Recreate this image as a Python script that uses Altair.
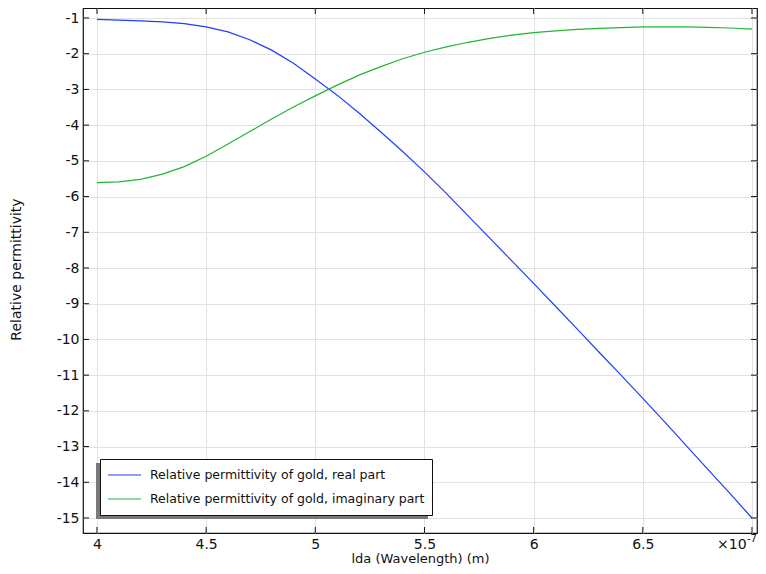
import altair as alt
import pandas as pd

# ---- data ----
wavelength = [4.0, 4.1, 4.2, 4.3, 4.4, 4.5, 4.6, 4.7, 4.8, 4.9,
              5.0, 5.1, 5.2, 5.3, 5.4, 5.5, 5.6, 5.7, 5.8, 5.9,
              6.0, 6.1, 6.2, 6.3, 6.4, 6.5, 6.6, 6.7, 6.8, 6.9, 7.0]
real_part = [-1.04, -1.06, -1.08, -1.11, -1.16, -1.25, -1.39, -1.61, -1.90, -2.27,
             -2.71, -3.16, -3.66, -4.19, -4.74, -5.31, -5.91, -6.54, -7.17, -7.80,
             -8.43, -9.07, -9.71, -10.36, -11.00, -11.65, -12.31, -12.98, -13.65, -14.32, -15.00]
imag_part = [-5.61, -5.59, -5.52, -5.37, -5.16, -4.87, -4.53, -4.18, -3.83, -3.49,
             -3.18, -2.88, -2.60, -2.36, -2.14, -1.96, -1.81, -1.68, -1.57, -1.48,
             -1.41, -1.36, -1.32, -1.29, -1.27, -1.25, -1.25, -1.25, -1.26, -1.28, -1.31]
series_names = ["Relative permittivity of gold, real part",
                "Relative permittivity of gold, imaginary part"]
series_colors = ["#1f3dff", "#22b533"]
x_ticks = [4.0, 4.5, 5.0, 5.5, 6.0, 6.5, 7.0]
y_ticks = [-1, -2, -3, -4, -5, -6, -7, -8, -9, -10, -11, -12, -13, -14, -15]
x_title = "lda (Wavelength) (m)"
y_title = "Relative permittivity"
exp_base = ["×10"]
exp_power = ["-7"]

W, H = 674, 525
FONT = "DejaVu Sans"

df = pd.DataFrame({
    "x": wavelength * 2,
    "y": real_part + imag_part,
    "s": [series_names[0]] * len(wavelength) + [series_names[1]] * len(wavelength),
})
xt = pd.DataFrame({"x": x_ticks})
yt = pd.DataFrame({"y": y_ticks})

xscale = alt.Scale(domain=[3.936, 7.023], nice=False, zero=False)
yscale = alt.Scale(domain=[-15.42, -0.72], nice=False, zero=False)

xaxis = alt.Axis(values=x_ticks, title=x_title,
                 labelExpr="datum.value == 7 ? '' : '' + datum.value",
                 titleY=25, titleBaseline="middle", titleFontSize=13, labelPadding=4)
yaxis = alt.Axis(values=y_ticks, title=y_title,
                 labelExpr="'' + datum.value",
                 titleX=-67, titleY=261, titleBaseline="middle",
                 labelPadding=4)

lines = alt.Chart(df).mark_line(strokeWidth=1.2).encode(
    x=alt.X("x:Q", scale=xscale, axis=xaxis),
    y=alt.Y("y:Q", scale=yscale, axis=yaxis),
    color=alt.Color("s:N", scale=alt.Scale(domain=series_names, range=series_colors),
                    legend=alt.Legend(title=None, orient="none", legendX=17, legendY=451,
                                      strokeColor="#111", fillColor="white", padding=7,
                                      symbolType="stroke", symbolSize=1089, clipHeight=18,
                                      symbolStrokeWidth=1.2, rowPadding=6, labelOffset=8,
                                      labelFontSize=12.5, labelFont=FONT, labelLimit=400,
                                      labelColor="#111")),
)

shadow = alt.Chart(xt.head(1)).mark_rect(color="#7a7a7a").encode(
    x=alt.value(13), x2=alt.value(345), y=alt.value(455), y2=alt.value(511))

tick_style = dict(color="#111", strokeWidth=1)
bottom_ticks = alt.Chart(xt).mark_rule(**tick_style).encode(
    x=alt.X("x:Q", scale=xscale, axis=xaxis), y=alt.value(H), y2=alt.value(H - 6))
top_ticks = alt.Chart(xt).mark_rule(**tick_style).encode(
    x=alt.X("x:Q", scale=xscale, axis=xaxis), y=alt.value(0), y2=alt.value(6))
left_ticks = alt.Chart(yt).mark_rule(**tick_style).encode(
    y=alt.Y("y:Q", scale=yscale, axis=yaxis), x=alt.value(0), x2=alt.value(6))
right_ticks = alt.Chart(yt).mark_rule(**tick_style).encode(
    y=alt.Y("y:Q", scale=yscale, axis=yaxis), x=alt.value(W), x2=alt.value(W - 6))

exp1 = alt.Chart(pd.DataFrame({"t": exp_base})).mark_text(
    align="left", baseline="middle", fontSize=14, font=FONT, color="#111").encode(
    text="t:N", x=alt.value(634), y=alt.value(H + 12))
exp2 = alt.Chart(pd.DataFrame({"t": exp_power})).mark_text(
    align="left", baseline="middle", fontSize=10, font=FONT, color="#111").encode(
    text="t:N", x=alt.value(664), y=alt.value(H + 6))

chart = alt.layer(shadow, lines, bottom_ticks, top_ticks, left_ticks, right_ticks, exp1, exp2).properties(
    width=W, height=H,
    autosize=alt.AutoSizeParams(type="none"),
    padding={"left": 75, "top": 0, "right": 1, "bottom": 33},
).configure(font=FONT).configure_view(
    stroke="#111", strokeWidth=1.2
).configure_axis(
    domain=False, ticks=False, grid=True, gridColor="#e2e2e2", gridWidth=1,
    labelFont=FONT, labelFontSize=14, labelColor="#111",
    titleFont=FONT, titleFontSize=14, titleFontWeight="normal", titleColor="#111",
)

chart.save("out.html", embed_options={"renderer": "svg", "actions": False})
